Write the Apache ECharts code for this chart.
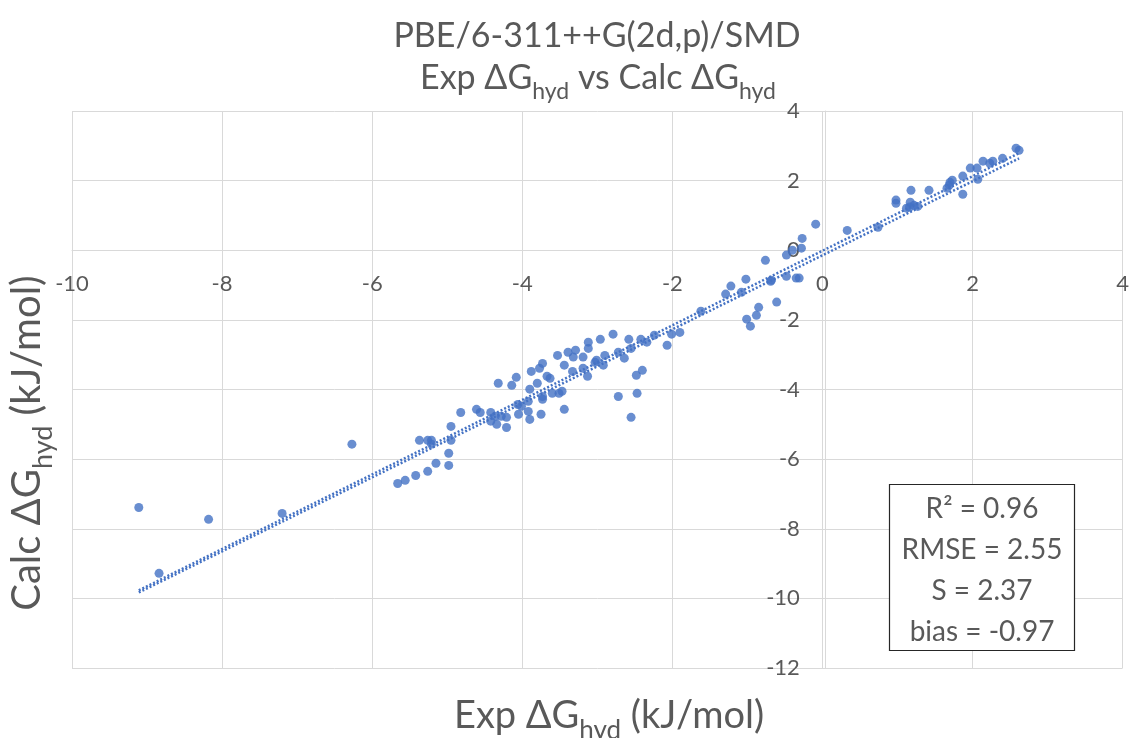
<!DOCTYPE html>
<html>
<head>
<meta charset="utf-8">
<script src="https://cdn.jsdelivr.net/npm/echarts@6/dist/echarts.min.js"></script>
<style>
html,body{margin:0;padding:0;background:#fff;}
#chart{width:1132px;height:738px;}
</style>
</head>
<body>
<div id="chart"></div>
<script>
// Experimental ΔG_hyd (x) and calculated ΔG_hyd (y), kJ/mol
var expX = [
 -9.11,-8.84,-8.18,-7.20,-6.27,-5.66,-5.56,-5.42,-5.26,-5.15,
 -4.98,-4.98,-5.37,-5.26,-5.21,-5.21,-4.95,-4.95,-4.82,-4.61,
 -4.56,-4.42,-4.42,-4.34,-4.36,-4.28,-4.21,-4.21,-4.32,-4.14,
 -4.08,-4.06,-4.01,-4.05,-3.90,-3.92,-3.92,-3.90,-3.88,-3.80,
 -3.77,-3.73,-3.73,-3.73,-3.75,-3.67,-3.63,-3.60,-3.53,-3.51,
 -3.47,-3.44,-3.44,-3.39,-3.32,-3.29,-3.33,-3.19,-3.19,-3.13,
 -3.12,-3.12,-3.03,-3.01,-2.96,-2.92,-2.90,-2.79,-2.72,-2.72,
 -2.64,-2.58,-2.55,-2.55,-2.48,-2.47,-2.40,-2.42,-2.34,-2.24,
 -2.07,-2.01,-1.90,-1.62,-1.29,-1.22,-1.08,-1.02,-1.01,-0.96,
 -0.88,-0.85,-0.76,-0.69,-0.68,-0.61,-0.48,-0.48,-0.40,-0.35,
 -0.31,-0.28,-0.27,-0.09, 0.33, 0.74, 0.98, 0.98, 1.18, 1.42,
  1.12, 1.17, 1.22, 1.27, 1.16, 1.66, 1.69, 1.70, 1.73, 1.87,
  1.87, 1.97, 2.06, 2.07, 2.14, 2.23, 2.27, 2.40, 2.58, 2.62
];
var calcY = [
 -7.39,-9.28,-7.73,-7.56,-5.57,-6.70,-6.61,-6.47,-6.35,-6.12,
 -6.18,-5.83,-5.46,-5.46,-5.46,-5.57,-5.46,-5.06,-4.66,-4.57,
 -4.66,-4.66,-4.91,-5.00,-4.77,-4.77,-4.80,-5.09,-3.82,-3.88,
 -3.65,-4.43,-4.48,-4.71,-3.99,-4.34,-4.63,-4.86,-3.48,-3.82,
 -3.39,-3.25,-4.20,-4.28,-4.71,-3.62,-3.68,-4.11,-3.02,-4.11,
 -4.05,-3.30,-4.57,-2.93,-3.07,-2.87,-3.48,-3.07,-3.39,-3.62,
 -2.64,-2.82,-3.22,-3.16,-2.56,-3.30,-3.02,-2.41,-2.93,-4.20,
 -3.10,-2.56,-2.82,-4.80,-3.59,-4.11,-3.45,-2.56,-2.64,-2.44,
 -2.73,-2.41,-2.36,-1.75,-1.26,-1.03,-1.21,-0.83,-1.98,-2.18,
 -1.87,-1.64,-0.29,-0.89,-0.86,-1.49,-0.14,-0.75, 0.00,-0.80,
 -0.80, 0.06, 0.34, 0.75, 0.57, 0.66, 1.44, 1.35, 1.72, 1.72,
  1.21, 1.38, 1.29, 1.26, 1.24, 1.78, 1.87, 1.95, 2.01, 1.61,
  2.13, 2.36, 2.36, 2.04, 2.56, 2.50, 2.56, 2.64, 2.93, 2.87
];
// Two linear trendlines (endpoints)
var trendAX = [-9.11, 2.62];
var trendAY = [-9.77, 2.79];
var trendBX = [-9.11, 2.62];
var trendBY = [-9.83, 2.64];
// Axis ranges / ticks
var xTicks = {min: -10, max: 4, interval: 2};
var yTicks = {min: -12, max: 4, interval: 2};
// Statistics box lines
var statLines = ['R\u00B2 = 0.96', 'RMSE = 2.55', 'S = 2.37', 'bias = -0.97'];

var FONT = 'Lato, "Noto Sans", sans-serif';
var TXT = '#595959';
var BLUE = '#4472C4';
var GRID = '#d9d9d9';

var G = {left: 72, right: 6, top: 111, bottom: 70};
var W = 1132, H = 738;
var gw = W - G.left - G.right, gh = H - G.top - G.bottom;
// axes cross at zero: shift each axis from its default edge to the other axis' zero
var xAxisOffset = -((0 - yTicks.min) / (yTicks.max - yTicks.min)) * gh;
var yAxisOffset = -((0 - xTicks.min) / (xTicks.max - xTicks.min)) * gw;

var pts = expX.map(function (x, i) { return [x, calcY[i]]; });
var tA = trendAX.map(function (x, i) { return [x, trendAY[i]]; });
var tB = trendBX.map(function (x, i) { return [x, trendBY[i]]; });

var chart = echarts.init(document.getElementById('chart'), null, {renderer: 'canvas'});

function richName(sz, subSz, pad) {
  return {
    a: {fill: TXT, fontSize: sz, fontFamily: FONT, verticalAlign: 'bottom', padding: [0, 0, pad, 0]},
    b: {fill: TXT, fontSize: subSz, fontFamily: FONT, verticalAlign: 'bottom'}
  };
}

var option = {
  animation: false,
  backgroundColor: '#fff',
  grid: {left: G.left, right: G.right, top: G.top, bottom: G.bottom, containLabel: false},
  xAxis: {
    type: 'value', min: xTicks.min, max: xTicks.max, interval: xTicks.interval,
    position: 'bottom', offset: xAxisOffset,
    axisLine: {show: true, onZero: false, lineStyle: {color: GRID, width: 1}},
    axisTick: {show: false},
    splitLine: {show: true, lineStyle: {color: GRID, width: 1}},
    axisLabel: {color: TXT, fontSize: 22, fontFamily: FONT, margin: 23, showMinLabel: true, showMaxLabel: true, hideOverlap: false}
  },
  yAxis: {
    type: 'value', min: yTicks.min, max: yTicks.max, interval: yTicks.interval,
    position: 'left', offset: yAxisOffset,
    axisLine: {show: true, onZero: false, lineStyle: {color: GRID, width: 1}},
    axisTick: {show: false},
    splitLine: {show: true, lineStyle: {color: GRID, width: 1}},
    axisLabel: {color: TXT, fontSize: 22, fontFamily: FONT, margin: 25, showMinLabel: true, showMaxLabel: true, hideOverlap: false}
  },
  series: [
    {
      type: 'scatter', data: pts, symbol: 'circle', symbolSize: 9,
      itemStyle: {color: BLUE}, z: 2
    },
    {
      type: 'line', data: tA, symbol: 'none', z: 3,
      lineStyle: {color: BLUE, width: 2.5, type: [2, 2]}
    },
    {
      type: 'line', data: tB, symbol: 'none', z: 3,
      lineStyle: {color: BLUE, width: 2.5, type: [2, 2]}
    }
  ],
  graphic: [
    {
      type: 'text', x: 597, y: 36,
      style: {text: 'PBE/6-311++G(2d,p)/SMD', fill: TXT, font: '34px ' + FONT, align: 'center', verticalAlign: 'middle'}
    },
    {
      type: 'text', x: 598, y: 82,
      style: {
        text: '{a|Exp \u0394G}{b|hyd}{a| vs Calc \u0394G}{b|hyd}',
        align: 'center', verticalAlign: 'middle', rich: richName(34, 23, 8)
      }
    },
    {
      type: 'text', x: 609, y: 720,
      style: {
        text: '{a|Exp \u0394G}{b|hyd}{a| (kJ/mol)}',
        align: 'center', verticalAlign: 'middle', rich: richName(38, 26, 9)
      }
    },
    {
      type: 'text', x: 32, y: 443, rotation: Math.PI / 2,
      style: {
        text: '{a|Calc \u0394G}{b|hyd}{a| (kJ/mol)}',
        align: 'center', verticalAlign: 'middle', rich: richName(40, 27, 9)
      }
    },
    {
      type: 'rect', shape: {x: 889.5, y: 484.5, width: 185, height: 166},
      style: {fill: '#fff', stroke: '#262626', lineWidth: 1.2}, z: 10
    },
    {
      type: 'text', x: 982, y: 570, z: 11,
      style: {
        text: statLines.join('\n'), fill: TXT, font: '28px ' + FONT,
        align: 'center', verticalAlign: 'middle', lineHeight: 41
      }
    }
  ]
};
chart.setOption(option);
</script>
</body>
</html>
